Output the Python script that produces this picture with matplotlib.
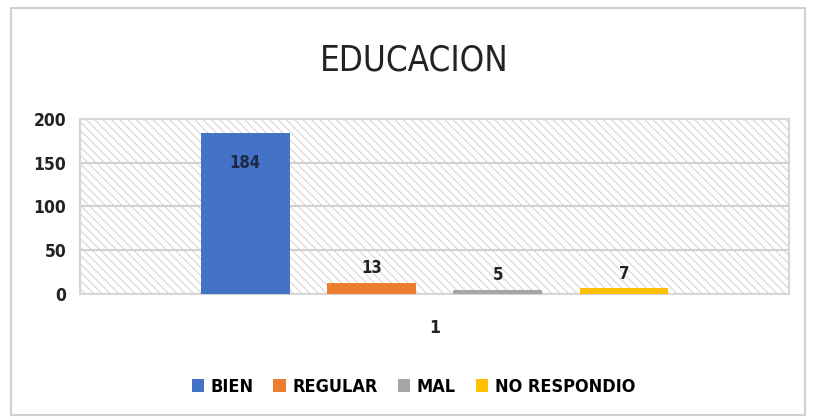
import matplotlib.pyplot as plt
from matplotlib.patches import Rectangle

# respuestas sobre educacion
categorias = ["BIEN", "REGULAR", "MAL", "NO RESPONDIO"]
valores = [184, 13, 5, 7]
colores = ["#4472c4", "#ed7d31", "#a5a5a5", "#ffc000"]
grupo = ["1"]

plt.rcParams["hatch.linewidth"] = 0.8

fig = plt.figure(figsize=(8.16, 4.2), dpi=100)
fig.patch.set_facecolor("white")

# marco exterior del grafico
fig.add_artist(Rectangle((0.013, 0.012), 0.974, 0.968, transform=fig.transFigure,
                         fill=False, edgecolor="#d0d0d0", linewidth=1.5))

ax = fig.add_axes([0.098, 0.30, 0.869, 0.417])
ax.set_facecolor("white")
ax.add_patch(Rectangle((0, 0), 1, 1, transform=ax.transAxes, facecolor="none",
                       edgecolor="#d6d6d6", hatch="\\\\\\\\", linewidth=0, zorder=0))

ancho = 0.125
paso = 0.178
for i, (cat, val, col) in enumerate(zip(categorias, valores, colores)):
    x = (i - 1.5) * paso
    ax.bar(x, val, width=ancho, color=col, label=cat, zorder=3)
    if val > 100:
        ax.text(x, val - 34, str(val), ha="center", va="center", fontsize=12,
                fontweight="bold", stretch="condensed", color="#1c2a48", zorder=4)
    else:
        ax.text(x, val + 6, str(val), ha="center", va="bottom", fontsize=12,
                fontweight="bold", stretch="condensed", color="#222222", zorder=4)

ax.set_xlim(-0.5, 0.5)
ax.set_ylim(0, 200)
ax.set_yticks([0, 50, 100, 150, 200])
ax.set_xticks([0])
ax.set_xticklabels(grupo)
ax.yaxis.grid(True, color="#d0d0d0", linewidth=1.5, zorder=1)
ax.set_axisbelow(True)
for s in ax.spines.values():
    s.set_color("#d6d6d6")
    s.set_linewidth(1.5)
ax.tick_params(length=0, labelsize=12.5, colors="#222222", pad=10)
for t in ax.get_xticklabels() + ax.get_yticklabels():
    t.set_fontweight("bold")
    t.set_fontstretch("condensed")
ax.tick_params(axis="x", pad=18)

fig.text(0.508, 0.855, "EDUCACION", ha="center", va="center", fontsize=25,
         family="DejaVu Sans", stretch="condensed", color="#222222")

ax.legend(loc="center", bbox_to_anchor=(0.47, -0.53), ncol=4, frameon=False,
          handlelength=0.7, handleheight=0.7, handletextpad=0.35, columnspacing=1.1,
          prop={"weight": "bold", "size": 13, "stretch": "condensed"})

fig.savefig("out.png", dpi=100)
